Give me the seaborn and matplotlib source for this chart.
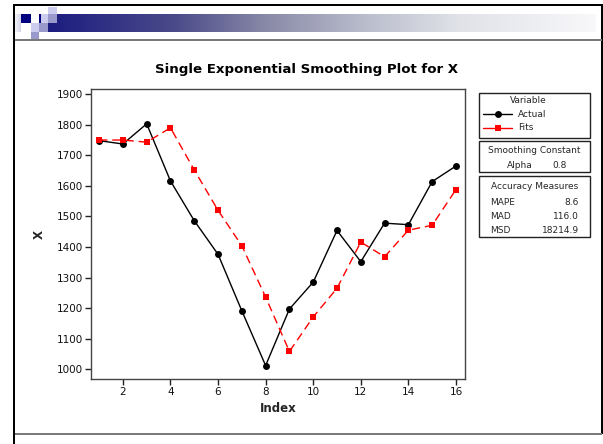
import numpy as np
import pandas as pd
import seaborn as sns
import matplotlib.pyplot as plt
from matplotlib.colors import LinearSegmentedColormap
from matplotlib.patches import Rectangle
from matplotlib.lines import Line2D

# Values
index = list(range(1, 17))
actual = [1748, 1737, 1803, 1616, 1486, 1376, 1191, 1012,
          1197, 1285, 1454, 1352, 1478, 1473, 1614, 1665]
fits = [1750, 1750, 1743, 1790, 1652, 1520, 1404, 1236,
        1058, 1171, 1265, 1416, 1368, 1455, 1471, 1588]

x_ticks = [2, 4, 6, 8, 10, 12, 14, 16]
y_ticks = [1000, 1100, 1200, 1300, 1400, 1500, 1600, 1700, 1800, 1900]

series_names = ["Actual", "Fits"]
alpha_value = "0.8"
accuracy_names = ["MAPE", "MAD", "MSD"]
accuracy_values = ["8.6", "116.0", "18214.9"]

W, H = 603, 444

sns.set_style("ticks")
plt.rcParams['font.family'] = ['DejaVu Sans']

fig = plt.figure(figsize=(W / 100, H / 100), dpi=100)

# background layer in pixel coordinates (slide frame, banner, info boxes)
bg = fig.add_axes([0, 0, 1, 1], zorder=0)
bg.set_xlim(0, W)
bg.set_ylim(H, 0)
bg.axis('off')

# banner gradient
grad = LinearSegmentedColormap.from_list(
    "banner",
    [(0.0, "#1c1c80"), (0.23, "#4a4a8a"), (0.4, "#8a8aa8"),
     (0.58, "#babdcc"), (0.75, "#e0e2e8"), (1.0, "#f8f8fa")])
bg.imshow(np.linspace(0, 1, 256)[None, :], cmap=grad, aspect='auto',
          extent=(48, 596, 32, 14), zorder=1)
fade = LinearSegmentedColormap.from_list("fade", ["#f4f4fa", "#d4d4ea"])
bg.imshow(np.linspace(0, 1, 32)[None, :], cmap=fade, aspect='auto',
          extent=(15, 21, 32, 14), zorder=1)

squares = [
    (21, 14, 10, 9, "#000080"),
    (39, 14, 1.5, 9, "#000080"),
    (40.5, 14, 7.5, 9, "#ccccee"),
    (48, 7, 9, 7, "#ccccee"),
    (48, 14, 9, 9, "#9999cc"),
    (31, 23, 8, 9, "#ccccee"),
    (39, 23, 9, 9, "#9999cc"),
    (31, 32, 8, 8, "#9999cc"),
]
for x0, y0, w, h, c in squares:
    bg.add_patch(Rectangle((x0, y0), w, h, facecolor=c, edgecolor='none', zorder=2))

# slide frame
bg.add_patch(Rectangle((13, 4.5), 589.5, 2, facecolor='black', edgecolor='none', zorder=3))
bg.add_patch(Rectangle((13, 4.5), 2, 440, facecolor='black', edgecolor='none', zorder=3))
bg.add_patch(Rectangle((600.5, 4.5), 2, 429, facecolor='black', edgecolor='none', zorder=3))
bg.add_patch(Rectangle((15, 39.5), 587, 2, facecolor='#7a7a7a', edgecolor='none', zorder=3))
bg.add_patch(Rectangle((15, 432.5), 587, 2, facecolor='#7a7a7a', edgecolor='none', zorder=3))

# title
bg.text(307, 70, "Single Exponential Smoothing Plot for X", ha='center', va='center',
        fontsize=9.6, fontweight='bold', color='black')

# info boxes
box_kw = dict(facecolor='white', edgecolor='#222222', linewidth=1.0, zorder=3)
bg.add_patch(Rectangle((479, 93), 111, 45, **box_kw))
bg.add_patch(Rectangle((479, 141), 111, 31, **box_kw))
bg.add_patch(Rectangle((479, 176), 111, 61, **box_kw))

fs = 6.5
bg.text(528, 100.5, "Variable", ha='center', va='center', fontsize=fs, zorder=4)
legend_styles = [dict(color='black', marker='o'), dict(color='red', marker='s')]
for i, (name, st) in enumerate(zip(series_names, legend_styles)):
    yy = 114.3 + i * 13.4
    bg.add_line(Line2D([483, 497.5, 512], [yy, yy, yy], lw=1, markersize=5,
                       markevery=[1], mew=0, zorder=4, **st))
    bg.text(518, yy, name, ha='left', va='center', fontsize=fs, zorder=4)

bg.text(534.5, 150.5, "Smoothing Constant", ha='center', va='center', fontsize=fs, zorder=4)
bg.text(507, 165, "Alpha", ha='left', va='center', fontsize=fs, zorder=4)
bg.text(567, 165, alpha_value, ha='right', va='center', fontsize=fs, zorder=4)

bg.text(534.5, 186.5, "Accuracy Measures", ha='center', va='center', fontsize=fs, zorder=4)
for i, (n, v) in enumerate(zip(accuracy_names, accuracy_values)):
    yy = 202.3 + i * 14.2
    bg.text(490, yy, n, ha='left', va='center', fontsize=fs, zorder=4)
    bg.text(579, yy, v, ha='right', va='center', fontsize=fs, zorder=4)

# main plot
ax = fig.add_axes([91 / W, 1 - 379 / H, (465 - 91) / W, (379 - 89) / H], zorder=2)
df = pd.DataFrame({
    "Index": index * 2,
    "X": actual + fits,
    "Variable": ["Actual"] * len(index) + ["Fits"] * len(index),
})
sns.lineplot(data=df, x="Index", y="X", hue="Variable", style="Variable",
             palette={"Actual": "black", "Fits": "red"},
             markers={"Actual": "o", "Fits": "s"},
             dashes={"Actual": "", "Fits": (6, 3.5)},
             markersize=5, markeredgewidth=0, linewidth=1,
             legend=False, ax=ax)

ax.set_xlim(0.66, 16.38)
ax.set_ylim(968, 1917)
ax.set_xticks(x_ticks)
ax.set_yticks(y_ticks)
ax.tick_params(axis='both', labelsize=7.5, length=4, width=1, color='#222222',
               labelcolor='#111111', pad=2)
for s in ax.spines.values():
    s.set_color('#444444')
    s.set_linewidth(1)
ax.set_xlabel("Index", fontsize=8.5, fontweight='bold', labelpad=3)
ax.set_ylabel("X", fontsize=8.5, fontweight='bold', labelpad=8)

fig.savefig("out.png", dpi=100)
